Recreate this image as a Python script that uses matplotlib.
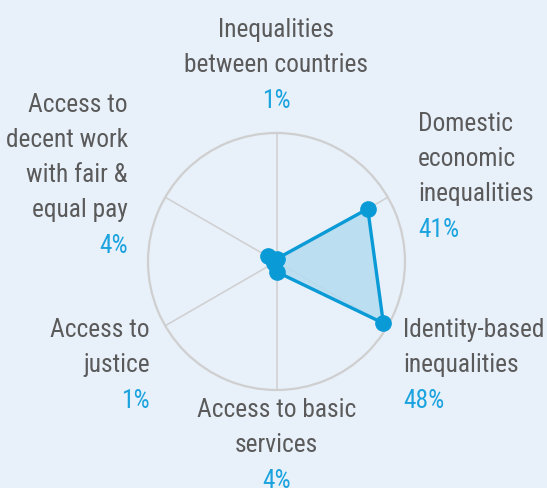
import numpy as np
import matplotlib
matplotlib.use("Agg")
import matplotlib.pyplot as plt

# ---- data ----
categories = [
    "Inequalities\nbetween countries",
    "Domestic\neconomic\ninequalities",
    "Identity-based\ninequalities",
    "Access to basic\nservices",
    "Access to\njustice",
    "Access to\ndecent work\nwith fair &\nequal pay",
]
values = [1, 41, 48, 4, 1, 4]
pct_labels = ["1%", "41%", "48%", "4%", "1%", "4%"]
r_max = 50

# ---- style ----
BG = "#e8f0fa"
LINE = "#0a9bd7"
FILL = "#b6dcf0"
GRID = "#cfcfcf"
TXT = "#5a5a5a"
PCT = "#1aa3de"
FONT = ["Liberation Sans Narrow", "Roboto Condensed", "Roboto", "DejaVu Sans"]

W, H = 547, 488
fig = plt.figure(figsize=(W / 100, H / 100), dpi=100, facecolor=BG)

cx, cy, rad = 276.5, 261.5, 128.5
ax = fig.add_axes([(cx - rad) / W, (H - cy - rad) / H, 2 * rad / W, 2 * rad / H],
                  projection="polar")
ax.set_facecolor(BG)
ax.set_theta_offset(np.pi / 2)
ax.set_theta_direction(-1)

n = len(values)
angles = np.arange(n) * 2 * np.pi / n
ax.set_ylim(0, r_max)
ax.set_xticks(angles)
ax.set_xticklabels([])
ax.set_yticks([])
ax.grid(False)
for a in angles:
    ax.plot([a, a], [0, r_max], color=GRID, lw=1.1, zorder=1)
ax.spines["polar"].set_color(GRID)
ax.spines["polar"].set_linewidth(1.6)

ang_c = np.append(angles, angles[0])
val_c = np.append(values, values[0])
ax.fill(ang_c, val_c, color=FILL, alpha=0.9, zorder=2)
ax.plot(ang_c, val_c, color=LINE, lw=2.4, zorder=3)
ax.plot(angles, values, "o", color=LINE, ms=11, zorder=4, clip_on=False)

# ---- labels (pixel positions: x, first baseline, align) ----
label_pos = [
    (276.5, 37, "center"),
    (418, 131, "left"),
    (403, 337, "left"),
    (276.5, 417, "center"),
    (150, 337, "right"),
    (128, 112, "right"),
]
step = 35
fs = 18.3
for lab, pct, (x, y0, ha) in zip(categories, pct_labels, label_pos):
    lines = lab.split("\n")
    for i, ln in enumerate(lines):
        fig.text(x / W, 1 - (y0 + i * step) / H, ln, ha=ha, va="baseline",
                 fontsize=fs, color=TXT, family=FONT)
    yp = y0 + len(lines) * step + 1
    fig.text(x / W, 1 - yp / H, pct, ha=ha, va="baseline",
             fontsize=fs, color=PCT, family=FONT)

fig.savefig("out.png", dpi=100, facecolor=BG)
